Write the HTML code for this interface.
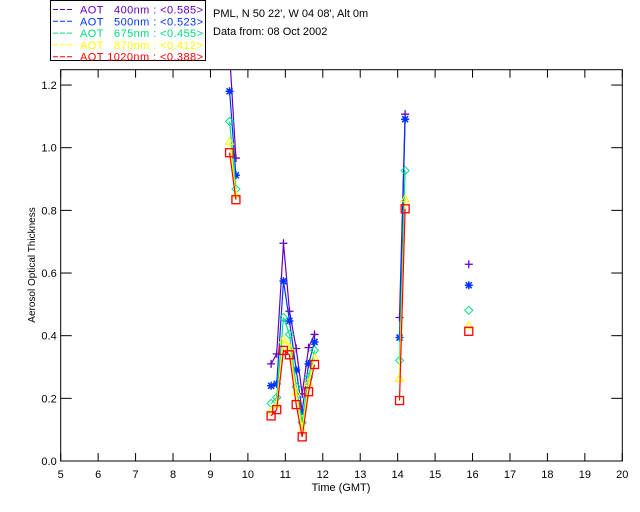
<!DOCTYPE html>
<html><head><meta charset="utf-8"><style>
body{margin:0;background:#fff;}
svg{display:block;font-family:"Liberation Sans",sans-serif;}
</style></head><body>
<svg id="chart" width="640" height="512" viewBox="0 0 640 512">
<rect x="0" y="0" width="640" height="512" fill="#fff"/>
<g id="legend">
<rect x="50.5" y="0.5" width="155" height="60" fill="#fff" stroke="#000"/>
</g>
<text x="213" y="17" font-size="11">PML, N 50 22', W 04 08', Alt 0m</text>
<text x="213" y="35" font-size="11">Data from: 08 Oct 2002</text>
<g id="axes"></g>
<g id="plot"></g>
<text x="341" y="491" font-size="11" text-anchor="middle">Time (GMT)</text>
<text transform="translate(35,265) rotate(-90)" font-size="10" text-anchor="middle">Aerosol Optical Thickness</text>
</svg>
<script>
const seriesNames=["400nm","500nm","675nm","870nm","1020nm"];
const seriesMeans=["0.585","0.523","0.455","0.412","0.388"];
const seriesColors=["#6600bb","#0033ff","#00e080","#ffff00","#ff0000"];
const times=[9.51,9.68,10.62,10.77,10.95,11.11,11.29,11.45,11.62,11.78,14.05,14.2,15.9];
const segments=[[0,1],[2,9],[10,11],[12,12]];
const aot400=[1.30,0.967,0.31,0.342,0.695,0.478,0.359,0.214,0.362,0.404,0.458,1.107,0.628];
const aot500=[1.18,0.912,0.24,0.246,0.574,0.447,0.291,0.16,0.31,0.38,0.394,1.091,0.561];
const aot675=[1.084,0.868,0.184,0.203,0.458,0.404,0.237,0.123,0.267,0.353,0.321,0.927,0.481];
const aot870=[1.02,0.85,0.16,0.18,0.387,0.364,0.22,0.10,0.25,0.33,0.264,0.837,0.433];
const aot1020=[0.984,0.834,0.144,0.164,0.353,0.339,0.18,0.077,0.221,0.308,0.193,0.805,0.414];
const xTicks=[5,6,7,8,9,10,11,12,13,14,15,16,17,18,19,20];
const yTicks=["0.0","0.2","0.4","0.6","0.8","1.0","1.2"];
const series=[aot400,aot500,aot675,aot870,aot1020];
const X0=60.7,X1=622.3,Y0=461,YT=69.7;
const xs=t=>X0+(t-5)*(X1-X0)/15;
const ys=v=>Y0-v*313.3;
const NS="http://www.w3.org/2000/svg";
function mk(tag,attrs,parent){const e=document.createElementNS(NS,tag);for(const k in attrs)e.setAttribute(k,attrs[k]);parent.appendChild(e);return e;}
const axes=document.getElementById('axes'),plot=document.getElementById('plot'),legend=document.getElementById('legend');
const frame=mk('rect',{x:X0,y:YT,width:X1-X0,height:Y0-YT,fill:'none',stroke:'#000','stroke-width':1},axes);


xTicks.forEach(t=>{
 const x=xs(t);
 mk('line',{x1:x,y1:Y0,x2:x,y2:Y0-8,stroke:'#000'},axes);
 mk('line',{x1:x,y1:YT,x2:x,y2:YT+8,stroke:'#000'},axes);
 const tx=mk('text',{x:x,y:Y0+17,'font-size':11,'text-anchor':'middle'},axes);tx.textContent=t;
 
 
});
yTicks.forEach(s=>{
 const y=ys(parseFloat(s));
 mk('line',{x1:X0,y1:y,x2:X0+11,y2:y,stroke:'#000'},axes);
 mk('line',{x1:X1,y1:y,x2:X1-11,y2:y,stroke:'#000'},axes);
 const tx=mk('text',{x:X0-4,y:y+4,'font-size':11,'text-anchor':'end'},axes);tx.textContent=s;
 
 
});
mk('clipPath',{id:'clip'},plot);
mk('rect',{x:X0,y:YT,width:X1-X0,height:Y0-YT},plot.lastChild);
const g=mk('g',{'clip-path':'url(#clip)'},plot);
function marker(k,x,y,c,par){
 const s=4;
 if(k===0){mk('path',{d:`M${x-s} ${y}H${x+s}M${x} ${y-s}V${y+s}`,stroke:c,fill:'none','stroke-width':1.3},par);}
 else if(k===1){mk('path',{d:`M${x-s} ${y}H${x+s}M${x} ${y-s}V${y+s}M${x-3} ${y-3}L${x+3} ${y+3}M${x-3} ${y+3}L${x+3} ${y-3}`,stroke:c,fill:'none','stroke-width':1.5},par);}
 else if(k===2){mk('path',{d:`M${x} ${y-s}L${x+s} ${y}L${x} ${y+s}L${x-s} ${y}Z`,stroke:c,fill:'none'},par);}
 else if(k===3){mk('path',{d:`M${x} ${y-s}L${x+s} ${y+3}L${x-s} ${y+3}Z`,stroke:c,fill:'none'},par);}
 else {mk('rect',{x:x-4,y:y-4,width:8,height:8,stroke:c,fill:'none','stroke-width':1.3},par);}
}
series.forEach((vals,k)=>{
 const c=seriesColors[k];
 const sg=mk('g',{},g);
 
 
 segments.forEach(([a,b])=>{
  if(b>a){let d='';for(let i=a;i<=b;i++)d+=(i===a?'M':'L')+xs(times[i]).toFixed(1)+' '+ys(vals[i]).toFixed(1);
   mk('path',{d:d,stroke:c,fill:'none','stroke-width':1.2},sg);}
 });
 vals.forEach((v,i)=>marker(k,xs(times[i]),ys(v),c,sg));
 const ly=9.5+k*11.8;
 mk('path',{d:`M53 ${ly}h5M60 ${ly}h5M67 ${ly}h5`,stroke:c,'stroke-width':1},legend);
 const lt=mk('text',{x:80,y:ly+4,'font-size':11,fill:c,textLength:123,lengthAdjust:'spacing'},legend);
 lt.textContent='AOT '+(seriesNames[k].length<6?'\u00a0\u00a0':'')+seriesNames[k]+' : <'+seriesMeans[k]+'>';
 
 
});
</script>
</body></html>
